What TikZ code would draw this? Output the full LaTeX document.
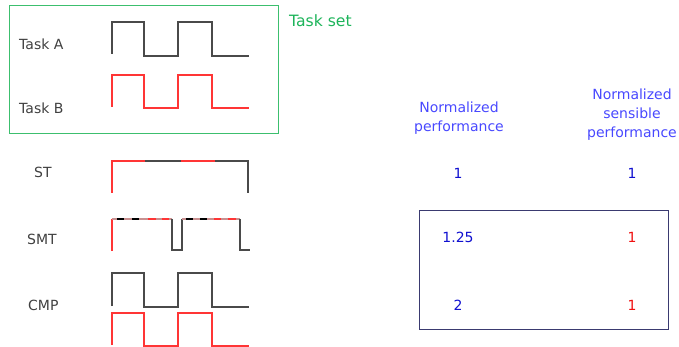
\documentclass[tikz,border=0pt]{standalone}
\usepackage{fontspec}
\setmainfont{DejaVu Sans}
\definecolor{wblack}{HTML}{4A4A4A}
\definecolor{wred}{HTML}{FF3535}
\definecolor{tgreen}{HTML}{1DB45A}
\definecolor{bgreen}{HTML}{3CBF6E}
\definecolor{hblue}{HTML}{4848FF}
\definecolor{vblue}{HTML}{1010D0}
\definecolor{vred}{HTML}{F01010}
\definecolor{navy}{HTML}{3A3A70}
\definecolor{mixline}{HTML}{C89090}
\tikzset{
  lbl/.style={font=\fontsize{14}{16}\selectfont, text=black!75, inner sep=0pt},
  hdr/.style={font=\fontsize{14}{19}\selectfont, text=hblue, align=center, inner sep=0pt},
  val/.style={font=\fontsize{14}{16}\selectfont, inner sep=0pt},
  wb/.style={wblack, line width=1.1pt},
  wr/.style={wred, line width=1.1pt},
  dsh/.style={line width=2.3pt}
}
\begin{document}
\begin{tikzpicture}[x=1pt,y=-1pt]
\useasboundingbox (0,0) rectangle (679,347);
% task set box
\draw[bgreen, line width=1pt] (9,6) rectangle (278,134);
\node[font=\fontsize{15.6}{18}\selectfont, text=tgreen, anchor=west, inner sep=0pt] (ts) at (289,21) {Task set};
\node[lbl, anchor=west] (ta) at (19,44) {Task A};
\node[lbl, anchor=west] (tb) at (19,108) {Task B};
% Task A
\draw[wb] (112,54) -- (112,22) -- (144,22) -- (144,56) -- (178,56) -- (178,22) -- (212,22) -- (212,56) -- (249,56);
% Task B
\draw[wr] (112,107) -- (112,75) -- (144,75) -- (144,108) -- (178,108) -- (178,75) -- (212,75) -- (212,108) -- (249,108);
% ST
\node[lbl, anchor=west] (st) at (34,172) {ST};
\draw[wr] (112,193) -- (112,161) -- (145,161);
\draw[wb] (145,161) -- (181,161);
\draw[wr] (181,161) -- (215,161);
\draw[wb] (215,161) -- (248,161) -- (248,193);
% SMT
\node[lbl, anchor=west] (smt) at (27,239) {SMT};
\draw[wr] (112,251) -- (112,219);
\draw[mixline, line width=1.1pt] (112,219) -- (172,219);
\draw[wb] (172,219) -- (172,250) -- (182,250) -- (182,219);
\draw[mixline, line width=1.1pt] (182,219) -- (240,219);
\draw[wb] (240,219) -- (240,250) -- (250,250);
\draw[dsh, black] (117,219) -- (124,219) (132,219) -- (139,219) (186,219) -- (193,219) (200,219) -- (207,219);
\draw[dsh, wred] (148,219) -- (156,219) (162,219) -- (169,219) (214,219) -- (221,219) (228,219) -- (236,219);
% CMP
\node[lbl, anchor=west] (cmp) at (28,305) {CMP};
\draw[wb] (112,306) -- (112,273) -- (144,273) -- (144,307) -- (178,307) -- (178,273) -- (212,273) -- (212,307) -- (249,307);
\draw[wr] (112,345) -- (112,313) -- (144,313) -- (144,346) -- (178,346) -- (178,313) -- (212,313) -- (212,346) -- (249,346);
% headers
\node[hdr] (h1) at (459,118) {Normalized\\performance};
\node[hdr] (h2) at (632,115) {Normalized\\sensible\\performance};
% values
\node[val, text=vblue] (v1) at (458,173) {1};
\node[val, text=vblue] (v2) at (632,173) {1};
\draw[navy, line width=1pt] (419,211) rectangle (668,329);
\node[val, text=vblue] (v3) at (458,237) {1.25};
\node[val, text=vred] (v4) at (632,237) {1};
\node[val, text=vblue] (v5) at (458,305) {2};
\node[val, text=vred] (v6) at (632,305) {1};
\end{tikzpicture}
\end{document}
